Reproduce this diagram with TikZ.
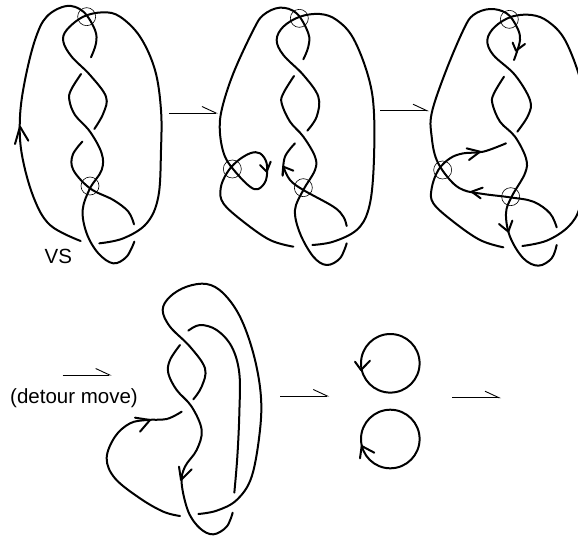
\documentclass[tikz,border=0pt]{standalone}
\usepackage{fontspec}
\setmainfont{Liberation Sans}
\usetikzlibrary{arrows.meta}
\tikzset{
  knot/.style={line width=2pt, line cap=round, line join=round},
  strand/.style={smooth, tension=0.6},
  mark circle/.style={line width=0.6pt},
  move/.style={line width=0.9pt, -{Straight Barb[left,length=14pt,width=13pt,line width=0.9pt]}},
  lab/.style={font=\fontsize{20.5}{24}\selectfont}
}
% barb on a strand: tip, then the two ends
\newcommand{\barb}[3]{\draw [knot] #2 -- #1 -- #3;}
\begin{document}
\begin{tikzpicture}[x=1pt,y=-1pt]
\useasboundingbox (0,0) rectangle (578,536);
\clip (0,0) rectangle (578,536);
% first diagram
\begin{scope}[scale=1/3]
\draw [knot] plot [strand] coordinates {(242,723) (150,675) (100,590) (65,460) (60,350) (75,240) (105,120) (140,50) (200,18) (250,35) (285,90) (288,130) (273,172)};
\draw [knot] plot [strand] coordinates {(298,730) (370,715) (440,670) (475,590) (483,450) (483,330) (465,210) (420,110) (360,50) (310,37) (250,50) (200,90) (190,125) (215,170) (270,225) (318,290) (310,340) (283,387)};
\draw [knot] plot [strand] coordinates {(243,222) (213,270) (208,300) (225,345) (270,395) (305,460) (305,510) (270,565) (248,630) (260,700) (295,760) (340,790) (380,770) (403,725)};
\draw [knot] plot [strand] coordinates {(247,425) (218,465) (220,510) (270,565) (340,600) (385,635) (402,673)};
\draw [mark circle] (260,50) circle [radius=27];
\draw [mark circle] (270,558) circle [radius=27];
\barb{(60,380)}{(45,432)}{(85,422)}
\node [lab] (vs) at (175,770) {VS};
\end{scope}
% second diagram
\begin{scope}[shift={(200,0)},scale=1/3]
\draw [knot] plot [strand] coordinates {(280,740) (210,720) (130,665) (70,610) (62,565) (80,520) (110,485) (150,460) (180,460) (200,490) (198,540) (175,567) (150,560) (110,520) (75,470) (60,400) (65,330) (100,220) (160,90) (190,45) (240,23) (290,40) (325,100) (325,140) (310,178)};
\draw [knot] plot [strand] coordinates {(337,735) (400,725) (470,690) (505,630) (520,520) (522,340) (505,230) (460,115) (410,60) (360,42) (300,50) (250,80) (230,120) (250,165) (310,225) (355,290) (350,350) (322,392)};
\draw [knot] plot [strand] coordinates {(282,228) (250,280) (245,310) (270,365) (310,410) (345,470) (345,510) (310,570) (285,630) (300,700) (340,770) (380,795) (420,775) (440,730)};
\draw [knot] plot [strand] coordinates {(285,430) (255,470) (248,525)};
\draw [knot] plot [strand] coordinates {(250,500) (270,540) (310,570) (400,620) (430,650) (440,678)};
\draw [mark circle] (298,55) circle [radius=27];
\draw [mark circle] (97,507) circle [radius=27];
\draw [mark circle] (310,563) circle [radius=27];
\barb{(200,515)}{(180,495)}{(212,485)}
\barb{(250,500)}{(248,527)}{(280,512)}
\end{scope}
% third diagram
\begin{scope}[shift={(400,0)},scale=1/3]
\draw [knot] plot [strand] coordinates {(310,742) (240,720) (160,665) (100,610) (95,565) (115,510) (150,475) (190,460) (250,455) (318,430)};
\draw [knot] plot [strand] coordinates {(342,180) (360,120) (350,80) (320,40) (270,27) (220,45) (190,90) (135,220) (95,340) (95,410) (110,480) (150,540) (190,570) (250,582) (330,592) (400,605) (450,640) (470,682)};
\draw [knot] plot [strand] coordinates {(367,738) (440,722) (505,680) (540,620) (558,500) (558,340) (540,235) (495,120) (445,65) (395,45) (335,50) (285,80) (262,120) (280,165) (345,225) (390,300) (385,345) (352,395)};
\draw [knot] plot [strand] coordinates {(312,230) (282,280) (277,310) (300,365) (345,410) (378,475) (375,520) (335,590) (318,640) (330,710) (370,775) (415,797) (455,775) (470,735)};
\draw [mark circle] (328,58) circle [radius=27];
\draw [mark circle] (128,510) circle [radius=27];
\draw [mark circle] (332,590) circle [radius=27];
\barb{(348,152)}{(338,128)}{(375,132)}
\barb{(240,455)}{(200,445)}{(207,480)}
\barb{(215,575)}{(248,563)}{(242,595)}
\barb{(325,695)}{(297,672)}{(337,662)}
\end{scope}
% fourth diagram
\begin{scope}[shift={(0,270)},scale=1/3]
\draw [knot] plot [strand] coordinates {(545,425) (500,447) (440,450) (390,460) (345,500) (320,565) (345,625) (420,685) (490,725) (540,738)};
\draw [knot] plot [strand] coordinates {(595,732) (650,722) (710,690) (755,620) (780,480) (782,370) (760,250) (720,140) (670,70) (620,42) (560,50) (510,80) (488,120) (510,170) (570,230) (615,295) (605,350) (580,388)};
\draw [knot] plot [strand] coordinates {(540,225) (510,270) (505,310) (530,360) (575,410) (605,480) (590,540) (555,590) (545,640) (565,725) (600,775) (640,793) (680,770) (698,728)};
\draw [knot] plot [strand] coordinates {(565,182) (600,165) (650,180) (695,230) (718,310) (718,430) (712,560) (703,668)};
\barb{(450,450)}{(405,443)}{(420,485)}
\barb{(543,630)}{(537,590)}{(575,598)}
\node [lab] (detour) at (222,385) {(detour move)};
\end{scope}
% two circles
\draw [knot] (390.3,363.3) circle [radius=29.3];
\draw [knot] (390.3,439) circle [radius=29.3];
\barb{(361,370)}{(355,361.7)}{(370,360.7)}
\barb{(361.7,446)}{(360,458.3)}{(374.3,452.7)}
% arrows between diagrams
\coordinate (m1a) at (169,113);
\coordinate (m1b) at (218,113);
\coordinate (m2a) at (380,110.7);
\coordinate (m2b) at (429,110.7);
\coordinate (m3a) at (62.7,375);
\coordinate (m3b) at (111.7,375);
\coordinate (m4a) at (280,396);
\coordinate (m4b) at (329.3,396);
\coordinate (m5a) at (452.3,397.7);
\coordinate (m5b) at (501,397.7);
\foreach \i in {1,...,5}
  \draw [move] (m\i a) -- (m\i b);
\end{tikzpicture}
\end{document}
